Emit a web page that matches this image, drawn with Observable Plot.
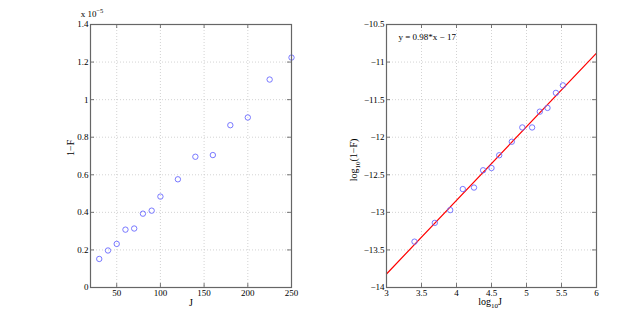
<!DOCTYPE html>
<html>
<head>
<meta charset="utf-8">
<script src="https://cdn.jsdelivr.net/npm/d3@7"></script>
<script src="https://cdn.jsdelivr.net/npm/@observablehq/plot@0.6"></script>
<style>
  html, body { margin: 0; padding: 0; background: #fff; }
  #fig { position: relative; width: 639px; height: 324px; background: #fff; overflow: hidden; }
  #fig > div, #fig > svg { position: absolute; top: 0; }
</style>
</head>
<body>
<div id="fig"></div>
<script>
// ---- Data ----
const J = [30, 40, 50, 60, 70, 80, 90, 100, 120, 140, 160, 180, 200, 225, 250];
// 1-F in units of 1e-5
const oneMinusF = [0.152, 0.197, 0.232, 0.308, 0.314, 0.393, 0.409, 0.484, 0.576, 0.696, 0.705, 0.864, 0.905, 1.107, 1.224];
const logJ = [3.40, 3.69, 3.91, 4.09, 4.25, 4.38, 4.50, 4.61, 4.79, 4.94, 5.08, 5.19, 5.30, 5.42, 5.52];
const logOneMinusF = [-13.39, -13.14, -12.97, -12.69, -12.67, -12.44, -12.41, -12.24, -12.06, -11.87, -11.87, -11.66, -11.61, -11.41, -11.31];
const fitX = [3, 6];
const fitY = [-13.82, -10.88];
const fitLabel = "y = 0.98*x − 17";

const xTicksL = [50, 100, 150, 200, 250];
const yTicksL = [0, 0.2, 0.4, 0.6, 0.8, 1, 1.2, 1.4];
const xTicksR = [3, 3.5, 4, 4.5, 5, 5.5, 6];
const yTicksR = [-14, -13.5, -13, -12.5, -12, -11.5, -11, -10.5];

const leftData = J.map((j, i) => ({x: j, y: oneMinusF[i]}));
const rightData = logJ.map((v, i) => ({x: v, y: logOneMinusF[i]}));
const fitData = fitX.map((v, i) => ({x: v, y: fitY[i]}));

const FONT = "Liberation Serif, Times New Roman, serif";
const H = 324, MT = 24, MB = 37;
const FH = H - MT - MB;
const fmtMinus = d => (d < 0 ? "\u2212" + Math.abs(d) : String(d));

function panel({width, ml, mr, xDomain, yDomain, xTicks, yTicks, data, extra}) {
  const FW = width - ml - mr;
  const grid = {stroke: "#c8c8c8", strokeOpacity: 1, strokeDasharray: "1,2", strokeWidth: 0.8};
  const tk = {stroke: "#555", strokeWidth: 0.8};
  return Plot.plot({
    width, height: H,
    marginLeft: ml, marginRight: mr, marginTop: MT, marginBottom: MB,
    style: {fontFamily: FONT, fontSize: "9px", background: "transparent", color: "#000", overflow: "visible"},
    x: {domain: xDomain},
    y: {domain: yDomain},
    marks: [
      Plot.ruleX(xTicks, {x: d => d, ...grid}),
      Plot.ruleY(yTicks, {y: d => d, ...grid}),
      Plot.ruleX(xTicks, {x: d => d, insetTop: FH - 4, ...tk}),
      Plot.ruleX(xTicks, {x: d => d, insetBottom: FH - 4, ...tk}),
      Plot.ruleY(yTicks, {y: d => d, insetRight: FW - 4, ...tk}),
      Plot.ruleY(yTicks, {y: d => d, insetLeft: FW - 4, ...tk}),
      Plot.axisX(xTicks, {tickSize: 0, tickPadding: 2, label: null, tickFormat: fmtMinus, fontSize: 9}),
      Plot.axisY(yTicks, {tickSize: 0, tickPadding: 2, label: null, tickFormat: fmtMinus, fontSize: 9}),
      ...(extra || []),
      Plot.dot(data, {x: "x", y: "y", r: 2.7, stroke: "#6a6aff", strokeWidth: 0.9, fill: "none"}),
      Plot.frame({stroke: "#666", strokeWidth: 1.2})
    ]
  });
}

const left = panel({
  width: 320, ml: 90, mr: 29,
  xDomain: [20, 250], yDomain: [0, 1.4],
  xTicks: xTicksL, yTicks: yTicksL, data: leftData,
  extra: [
    Plot.text(["J"], {frameAnchor: "bottom", dy: 18, lineAnchor: "bottom", text: d => d, fontSize: 10}),
    Plot.text(["1\u2212F"], {frameAnchor: "left", dx: -20, rotate: -90, text: d => d, fontSize: 10})
  ]
});

const right = panel({
  width: 319, ml: 66, mr: 43,
  xDomain: [3, 6], yDomain: [-14, -10.5],
  xTicks: xTicksR, yTicks: yTicksR, data: rightData,
  extra: [
    Plot.line(fitData, {x: "x", y: "y", stroke: "#ff0000", strokeWidth: 1.2}),
    Plot.text([fitLabel], {frameAnchor: "top-left", dx: 12, dy: 13, textAnchor: "start", lineAnchor: "middle", text: d => d, fontSize: 9})
  ]
});

const fig = document.getElementById("fig");
left.style.left = "0px";
right.style.left = "320px";
fig.appendChild(left);
fig.appendChild(right);

// Labels needing super/subscripts
const ls = d3.select(left);
const sup = ls.append("text").attr("x", 92).attr("y", 17)
  .attr("font-family", FONT).attr("font-size", 9).attr("fill", "#000");
sup.append("tspan").text("x 10");
sup.append("tspan").attr("dy", -4).attr("font-size", 6.5).text("\u22125");

const rs = d3.select(right);
const yl = rs.append("text")
  .attr("transform", "translate(37,160) rotate(-90)")
  .attr("text-anchor", "middle")
  .attr("font-family", FONT).attr("font-size", 10).attr("fill", "#000");
yl.append("tspan").text("log");
yl.append("tspan").attr("dy", 3).attr("font-size", 7).text("10");
yl.append("tspan").attr("dy", -3).text("(1\u2212F)");

const xl = rs.append("text")
  .attr("x", 170).attr("y", 305)
  .attr("text-anchor", "middle")
  .attr("font-family", FONT).attr("font-size", 10).attr("fill", "#000");
xl.append("tspan").text("log");
xl.append("tspan").attr("dy", 3).attr("font-size", 7).text("10");
xl.append("tspan").attr("dy", -3).text("J");
</script>
</body>
</html>
